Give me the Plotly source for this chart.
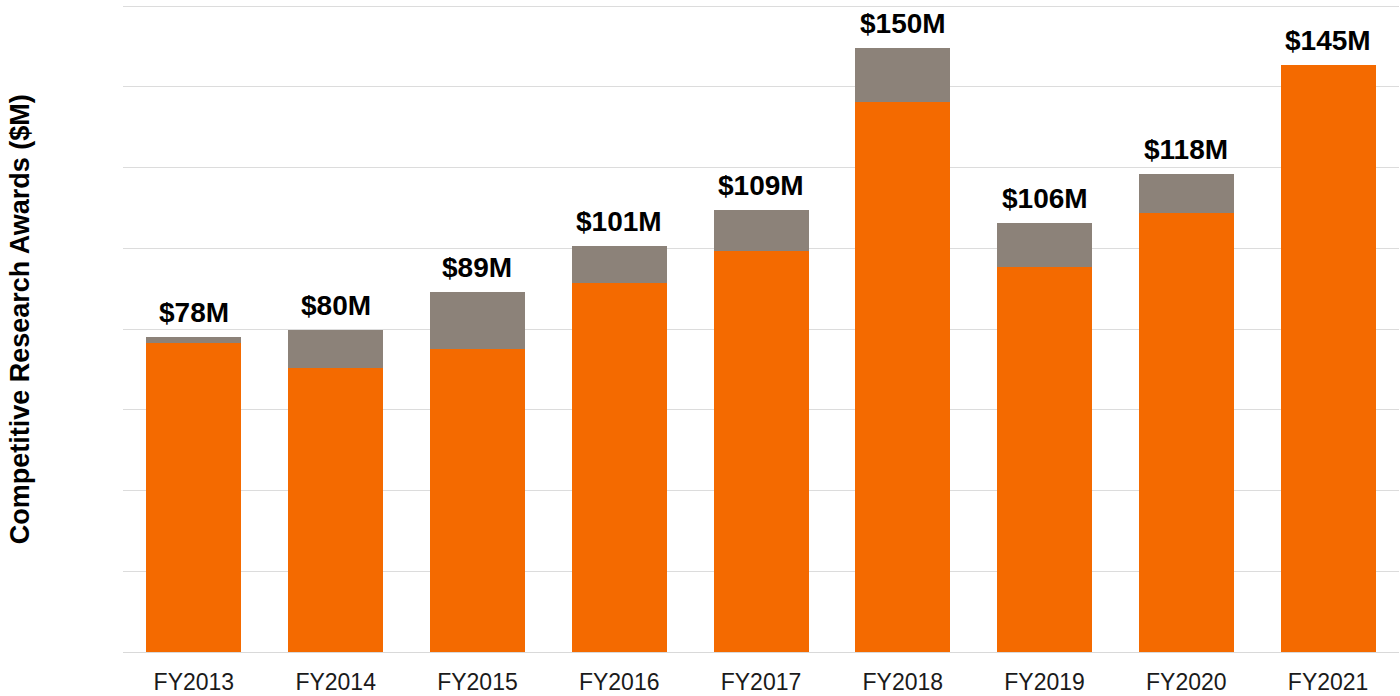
import plotly.graph_objects as go

years = ["FY2013", "FY2014", "FY2015", "FY2016", "FY2017", "FY2018", "FY2019", "FY2020", "FY2021"]
orange_vals = [76.6, 70.3, 75.0, 91.3, 99.2, 136.2, 95.4, 108.7, 145.4]
gray_vals = [1.3, 9.5, 14.2, 9.2, 10.2, 13.4, 10.9, 9.7, 0.0]
total_labels = ["$78M", "$80M", "$89M", "$101M", "$109M", "$150M", "$106M", "$118M", "$145M"]

ORANGE = "#F46A00"
GRAY = "#8C8279"

fig = go.Figure()
fig.add_trace(go.Bar(x=years, y=orange_vals, marker=dict(color=ORANGE, line=dict(width=0)),
                     showlegend=False, hoverinfo="skip"))
fig.add_trace(go.Bar(x=years, y=gray_vals, marker=dict(color=GRAY, line=dict(width=0)),
                     showlegend=False, hoverinfo="skip"))

totals = [o + g for o, g in zip(orange_vals, gray_vals)]
for yr, t, lab in zip(years, totals, total_labels):
    fig.add_annotation(x=yr, y=t, text=lab, showarrow=False, yanchor="bottom", yshift=7,
                       font=dict(family="Liberation Sans, Arial", size=28, color="#000000", weight="bold"))

fig.add_annotation(xref="paper", yref="paper", x=-0.08, y=0.514, text="Competitive Research Awards ($M)",
                   textangle=-90, showarrow=False, xanchor="center", yanchor="middle",
                   font=dict(family="Liberation Sans, Arial", size=27, color="#000000", weight="bold"))

fig.update_layout(
    barmode="stack",
    bargap=0.33,
    width=1400, height=696,
    margin=dict(l=123, r=1, t=5, b=44),
    plot_bgcolor="white", paper_bgcolor="white",
    font=dict(family="Liberation Sans, Arial"),
    xaxis=dict(showgrid=False, showline=True, linecolor="#d9d9d9", linewidth=1, ticks="",
               ticklabelstandoff=9, tickfont=dict(size=23, color="#1a1a1a")),
    yaxis=dict(range=[0, 160.25], tickvals=[20, 40, 60, 80, 100, 120, 140, 160], showticklabels=False,
               showgrid=True, gridcolor="#dcdcdc", gridwidth=1, zeroline=False, showline=False),
)

fig.write_html("out.html", config={"displayModeBar": False},
               post_script="document.body.style.margin='0';document.body.style.overflow='hidden';")
